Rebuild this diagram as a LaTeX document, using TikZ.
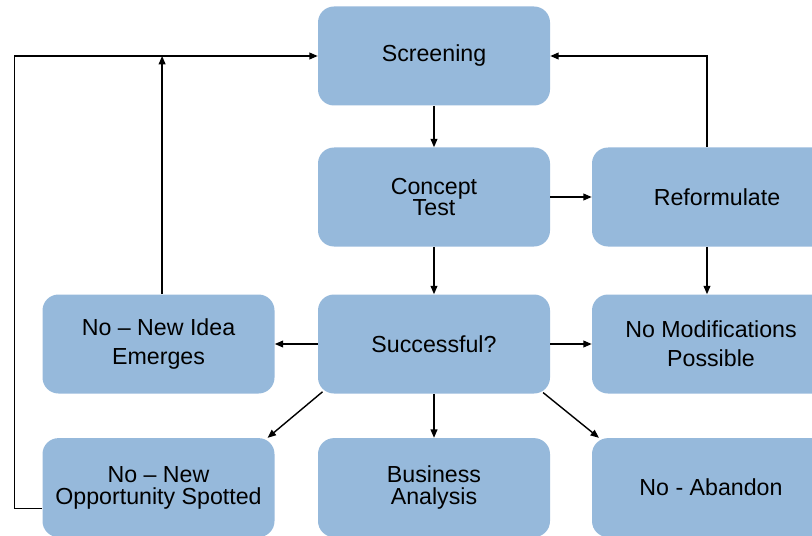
\documentclass[tikz,border=0pt]{standalone}
\usepackage{fontspec}
\setmainfont{Liberation Sans}
\usetikzlibrary{arrows.meta}
\definecolor{boxblue}{RGB}{150,185,219}
\begin{document}
\begin{tikzpicture}[
    box/.style={fill=boxblue, rounded corners=0.4cm, minimum width=5.8cm, minimum height=2.475cm, align=center, inner sep=0pt, font=\fontsize{16.5}{20.5}\selectfont},
    widebox/.style={box, minimum width=5.95cm},
    arr/.style={-{Triangle[length=2.1mm,width=1.7mm]}, line width=1pt}
    ]
        \clip (0,0) rectangle (20.3,-13.4);
        \node[box] (screen) at (10.85,-1.4) {Screening};
        \node[box] (concept) at (10.85,-4.925) {Concept\\[-5pt]Test};
        \node[widebox] (reform) at (17.775,-4.925) {\hspace*{0.3cm}Reformulate};
        \node[box] (newidea) at (3.9625,-8.6) {No – New Idea\\Emerges};
        \node[box] (succ) at (10.85,-8.6) {\raisebox{-0.12cm}{Successful?}};
        \node[widebox] (nomod) at (17.775,-8.6) {No Modifications\\Possible};
        \node[box] (opp) at (3.9625,-12.19) {No – New\\[-5pt]Opportunity Spotted};
        \node[box] (business) at (10.85,-12.19) {Business\\[-5pt]Analysis};
        \node[widebox] (abandon) at (17.775,-12.19) {No - Abandon};
        % main flow
        \draw[arr] (screen) -- (concept);
        \draw[arr] (concept) -- (concept -| reform.west);
        \draw[arr] (concept) -- (succ);
        \draw[arr] ([xshift=-0.1cm]reform.south) -- ([xshift=-0.1cm]nomod.north);
        \draw[arr] (succ) -- (newidea);
        \draw[arr] (succ) -- (succ -| nomod.west);
        \draw[arr] (succ) -- (business);
        \draw[arr] ([shift={(0.12,0.05)}]succ.south west) -- ([xshift=-0.18cm]opp.north east);
        \draw[arr] ([shift={(-0.18,0.03)}]succ.south east) -- ([xshift=0.18cm]abandon.north west);
        % loops back to screening
        \draw[arr] ([yshift=-0.52cm]opp.west) -- ++(-0.7,0) |- (screen.west);
        \draw[arr] ([xshift=0.09cm]newidea.north) -- ([xshift=0.09cm]newidea.north |- screen.west);
        \draw[arr] ([xshift=-0.1cm]reform.north) |- (screen.east);
    \end{tikzpicture}
\end{document}
